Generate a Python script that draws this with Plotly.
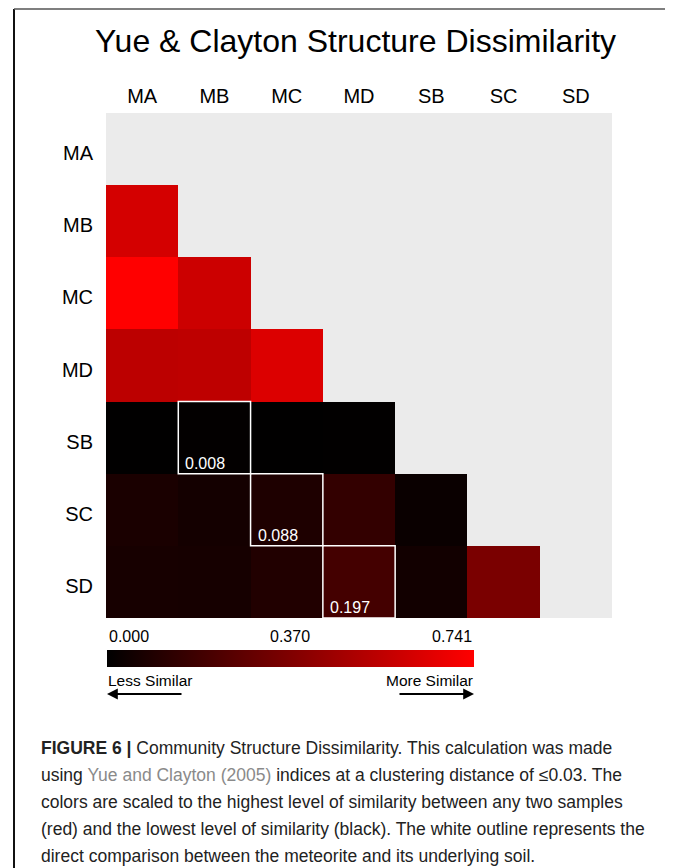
import plotly.graph_objects as go

# the page puts the figure 8 px in from the top-left corner
OFF = 8
W, H = 673 - OFF, 868 - OFF

# data: pairwise Yue & Clayton similarity (lower triangle, rows x cols)
samples = ['MA', 'MB', 'MC', 'MD', 'SB', 'SC', 'SD']
row_MB = [0.616]
row_MC = [0.741, 0.593]
row_MD = [0.545, 0.552, 0.640]
row_SB = [0.002, 0.008, 0.003, 0.005]
row_SC = [0.075, 0.058, 0.088, 0.148, 0.029]
row_SD = [0.067, 0.064, 0.096, 0.197, 0.052, 0.355]
lower_rows = [[], row_MB, row_MC, row_MD, row_SB, row_SC, row_SD]

# meteorite vs underlying soil comparisons (outlined)
outlined = [('SB', 'MB'), ('SC', 'MC'), ('SD', 'MD')]

zmax = 0.741
cbar_ticks = ['0.000', '0.370', '0.741']

FONT = 'Liberation Sans, Arial, sans-serif'


def px(x):
    return (x - OFF) / W


def py(y):
    return 1 - (y - OFF) / H


# build full matrix with gaps for the upper triangle
z = []
for vals in lower_rows:
    row = list(vals) + [None] * (len(samples) - len(vals))
    z.append(row)

fig = go.Figure()

fig.add_trace(go.Heatmap(
    z=z, x=samples, y=samples,
    zmin=0, zmax=zmax,
    colorscale=[[0, '#000000'], [1, '#FF0000']],
    hoverongaps=False,
    colorbar=dict(
        orientation='h', xref='paper', yref='paper',
        x=px(107), xanchor='left', y=py(650), yanchor='top',
        len=367, lenmode='pixels', thickness=17,
        xpad=0, ypad=0, outlinewidth=0,
        showticklabels=False, ticks='',
    ),
))

shapes = []
annotations = []

# white outlines + value labels
for r, c in outlined:
    ri, ci = samples.index(r), samples.index(c)
    shapes.append(dict(type='rect', xref='x', yref='y',
                       x0=ci - 0.5, x1=ci + 0.5, y0=ri - 0.5, y1=ri + 0.5,
                       line=dict(color='white', width=1.5)))
    annotations.append(dict(xref='x', yref='y', x=ci - 0.5, y=ri + 0.5,
                            xanchor='left', yanchor='bottom', xshift=5, yshift=0,
                            text=f'{z[ri][ci]:.3f}', showarrow=False,
                            font=dict(family=FONT, size=16, color='white')))

# title
annotations.append(dict(xref='paper', yref='paper', x=px(355), y=py(41),
                        xanchor='center', yanchor='middle', showarrow=False,
                        text='Yue & Clayton Structure Dissimilarity',
                        font=dict(family=FONT, size=32, color='black')))

# colorbar tick labels
cb_x = [107, 290, 474]
cb_anchor = ['left', 'center', 'right']
for t, xx, anc in zip(cbar_ticks, cb_x, cb_anchor):
    annotations.append(dict(xref='paper', yref='paper', x=px(xx), y=py(636),
                            xanchor=anc, yanchor='middle', showarrow=False, text=t,
                            font=dict(family=FONT, size=16, color='black')))

annotations.append(dict(xref='paper', yref='paper', x=px(106), y=py(680),
                        xanchor='left', yanchor='middle', showarrow=False,
                        text='Less Similar', font=dict(family=FONT, size=15.5, color='black')))
annotations.append(dict(xref='paper', yref='paper', x=px(475), y=py(680),
                        xanchor='right', yanchor='middle', showarrow=False,
                        text='More Similar', font=dict(family=FONT, size=15.5, color='black')))
annotations.append(dict(xref='paper', yref='paper', x=px(107), y=py(694),
                        ax=76, ay=0, text='', showarrow=True,
                        arrowhead=2, arrowsize=1.2, arrowwidth=1.8, arrowcolor='black'))
annotations.append(dict(xref='paper', yref='paper', x=px(474), y=py(694),
                        ax=-76, ay=0, text='', showarrow=True,
                        arrowhead=2, arrowsize=1.2, arrowwidth=1.8, arrowcolor='black'))

# caption
caption = [
    "<b>FIGURE 6 |</b> Community Structure Dissimilarity. This calculation was made",
    "using <span style='color:#8a8a8a'>Yue and Clayton (2005)</span> indices at a clustering distance of \u22640.03. The",
    "colors are scaled to the highest level of similarity between any two samples",
    "(red) and the lowest level of similarity (black). The white outline represents the",
    "direct comparison between the meteorite and its underlying soil.",
]
for i, line in enumerate(caption):
    annotations.append(dict(xref='paper', yref='paper', x=px(39), y=py(748 + 27 * i),
                            xanchor='left', yanchor='middle', showarrow=False, text=line,
                            font=dict(family=FONT, size=17.5, color='#222222')))

# frame
shapes.append(dict(type='line', xref='paper', yref='paper', x0=px(14), x1=px(14),
                   y0=py(9), y1=py(880), line=dict(color='#111111', width=2)))
shapes.append(dict(type='line', xref='paper', yref='paper', x0=px(14), x1=px(671),
                   y0=py(9), y1=py(9), line=dict(color='#555555', width=1.5)))
shapes.append(dict(type='line', xref='paper', yref='paper', x0=px(671), x1=px(671),
                   y0=py(9), y1=py(880), line=dict(color='#777777', width=1.5)))

fig.update_layout(
    width=W, height=H,
    margin=dict(l=0, r=0, t=0, b=0),
    paper_bgcolor='white',
    plot_bgcolor='#EBEBEB',
    shapes=shapes,
    annotations=annotations,
    font=dict(family=FONT, color='black'),
)

fig.update_xaxes(domain=[px(106), px(612)], range=[-0.5, 6.5], autorange=False,
                 side='top', showgrid=False, zeroline=False,
                 ticks='outside', ticklen=1, tickcolor='rgba(0,0,0,0)',
                 tickfont=dict(family=FONT, size=20, color='black'))
fig.update_yaxes(domain=[py(618), py(113)], range=[6.5, -0.5], autorange=False,
                 showgrid=False, zeroline=False, ticklabelshift=-4,
                 ticks='outside', ticklen=8, tickcolor='rgba(0,0,0,0)',
                 tickfont=dict(family=FONT, size=20, color='black'))

fig.write_html("out.html")
